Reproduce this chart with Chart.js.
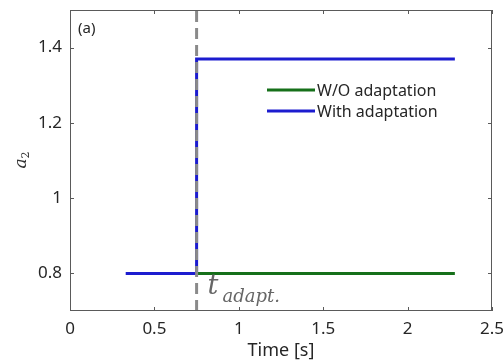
<!DOCTYPE html>
<html>
<head>
<meta charset="utf-8">
<script src="https://cdn.jsdelivr.net/npm/chart.js@4"></script>
<style>
  html, body { margin: 0; padding: 0; background: #fff; }
  #wrap { width: 503px; height: 364px; }
</style>
</head>
<body>
<div id="wrap"><canvas id="grafico" width="503" height="364"></canvas></div>
<script>
// datos
const tWith = [0.33, 0.75, 0.75, 2.28];
const aWith = [0.8, 0.8, 1.37, 1.37];
const tWithout = [0.75, 2.28];
const aWithout = [0.8, 0.8];
const tAdapt = 0.75;
const xTicks = [0, 0.5, 1, 1.5, 2, 2.5];
const yTicks = [0.8, 1, 1.2, 1.4];
const etiquetas = ['W/O adaptation', 'With adaptation'];

const azul = '#1c1ccf';
const verde = '#16701a';
const gris = '#8a8a8a';
const texto = '#262626';

const puntos = (xs, ys) => xs.map((x, i) => ({ x: x, y: ys[i] }));

// marco, ticks hacia dentro, etiquetas, leyenda y anotaciones
const extras = {
  id: 'extras',
  afterDatasetsDraw(chart) {
    const ctx = chart.ctx;
    const a = chart.chartArea;
    const xs = chart.scales.x, ys = chart.scales.y;
    ctx.save();
    ctx.strokeStyle = '#5a5a5a';
    ctx.lineWidth = 1;
    ctx.strokeRect(a.left + 0.5, a.top + 0.5, a.right - a.left - 1, a.bottom - a.top - 1);
    ctx.beginPath();
    xTicks.forEach(v => {
      const px = Math.round(xs.getPixelForValue(v)) + 0.5;
      ctx.moveTo(px, a.bottom); ctx.lineTo(px, a.bottom - 4);
      ctx.moveTo(px, a.top); ctx.lineTo(px, a.top + 4);
    });
    yTicks.forEach(v => {
      const py = Math.round(ys.getPixelForValue(v)) + 0.5;
      ctx.moveTo(a.left, py); ctx.lineTo(a.left + 4, py);
      ctx.moveTo(a.right, py); ctx.lineTo(a.right - 4, py);
    });
    ctx.stroke();

    // etiquetas de los ejes
    ctx.fillStyle = texto;
    ctx.font = '17px "Noto Sans"';
    ctx.textBaseline = 'middle';
    ctx.textAlign = 'center';
    xTicks.forEach(v => ctx.fillText(String(v), xs.getPixelForValue(v), a.bottom + 18));
    ctx.textAlign = 'right';
    yTicks.forEach(v => ctx.fillText(String(v), a.left - 8, ys.getPixelForValue(v)));

    ctx.textAlign = 'center';
    ctx.font = '18px "Noto Sans"';
    ctx.fillText('Time [s]', (a.left + a.right) / 2, 351);

    // a_2 girado
    ctx.save();
    ctx.translate(24, (a.top + a.bottom) / 2);
    ctx.rotate(-Math.PI / 2);
    ctx.fillStyle = '#333';
    ctx.textAlign = 'left';
    ctx.textBaseline = 'alphabetic';
    ctx.font = 'italic 17px "DejaVu Serif"';
    ctx.fillText('a', -8, 2);
    ctx.font = '11px "DejaVu Serif"';
    ctx.fillText('2', 2, 5);
    ctx.restore();

    // leyenda
    ctx.font = '16px "Noto Sans"';
    ctx.textBaseline = 'middle';
    ctx.textAlign = 'left';
    const colores = [verde, azul];
    etiquetas.forEach((lab, i) => {
      const y = 90 + i * 21;
      ctx.strokeStyle = colores[i];
      ctx.lineWidth = 3;
      ctx.beginPath();
      ctx.moveTo(267, y); ctx.lineTo(315, y);
      ctx.stroke();
      ctx.fillStyle = texto;
      ctx.fillText(lab, 317, y + 1);
    });

    // (a)
    ctx.font = '15px "Noto Sans"';
    ctx.fillStyle = texto;
    ctx.fillText('(a)', 78, 29);

    // t_adapt.
    const px = xs.getPixelForValue(tAdapt);
    ctx.fillStyle = '#666';
    ctx.textBaseline = 'alphabetic';
    ctx.font = 'italic 27px "DejaVu Serif"';
    ctx.fillText('t', px + 11, 294);
    ctx.font = 'italic 18px "DejaVu Serif"';
    ctx.fillText('adapt.', px + 26, 302);
    ctx.restore();
  }
};

new Chart(document.getElementById('grafico').getContext('2d'), {
  type: 'line',
  data: {
    datasets: [
      {
        label: 't_adapt',
        data: [{ x: tAdapt, y: 0.7 }, { x: tAdapt, y: 1.5 }],
        borderColor: gris,
        borderWidth: 3,
        borderDash: [11, 6],
        pointRadius: 0,
        order: 0
      },
      {
        label: etiquetas[0],
        data: puntos(tWithout, aWithout),
        borderColor: verde,
        borderWidth: 3,
        pointRadius: 0,
        order: 1
      },
      {
        label: etiquetas[1],
        data: puntos(tWith, aWith),
        borderColor: azul,
        borderWidth: 3,
        pointRadius: 0,
        order: 2
      }
    ]
  },
  options: {
    responsive: false,
    animation: false,
    layout: { padding: { top: 10, right: 11, left: 0, bottom: 0 } },
    plugins: {
      legend: { display: false },
      tooltip: { enabled: false }
    },
    scales: {
      x: {
        type: 'linear',
        min: 0, max: 2.5,
        afterFit: s => { s.height = 53; s.paddingLeft = 0; s.paddingRight = 0; },
        grid: { display: false, drawTicks: false },
        border: { display: false },
        ticks: { display: false }
      },
      y: {
        type: 'linear',
        min: 0.7, max: 1.5,
        afterFit: s => { s.width = 70; s.paddingTop = 0; s.paddingBottom = 0; },
        grid: { display: false, drawTicks: false },
        border: { display: false },
        ticks: { display: false }
      }
    }
  },
  plugins: [extras]
});
</script>
</body>
</html>
